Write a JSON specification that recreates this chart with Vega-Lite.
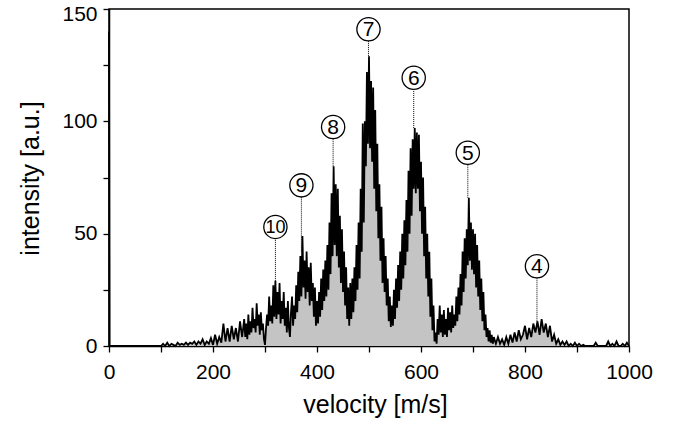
{
  "$schema": "https://vega.github.io/schema/vega-lite/v6.json",
  "width": 520,
  "height": 337,
  "autosize": {"type": "none"},
  "padding": {"left": 109, "top": 9, "right": 45, "bottom": 78},
  "background": "white",
  "config": {
    "font": "Liberation Sans",
    "view": {"stroke": "black", "strokeWidth": 1.5},
    "axis": {
      "grid": false,
      "domainColor": "black",
      "domainWidth": 1.5,
      "tickColor": "black",
      "tickWidth": 1.3,
      "tickSize": 6,
      "labelColor": "black",
      "titleColor": "black",
      "labelFontSize": 21,
      "titleFontSize": 25,
      "titleFontWeight": "normal",
      "labelFlush": false,
      "labelOverlap": false
    }
  },
  "datasets": {
    "spec": [
      {"v":0,"i":140},{"v":1,"i":0},
      {"v":100,"i":0},{"v":104,"i":1},{"v":108,"i":0},{"v":112,"i":1.5},{"v":116,"i":0},{"v":120,"i":1},{"v":124,"i":0.5},{"v":128,"i":0},
      {"v":132,"i":1.5},{"v":136,"i":0.5},{"v":140,"i":1},{"v":144,"i":0.5},{"v":148,"i":1.5},{"v":152,"i":0.5},{"v":156,"i":1.5},{"v":160,"i":1},
      {"v":164,"i":2},{"v":168,"i":0.5},{"v":172,"i":2},{"v":176,"i":1},{"v":180,"i":3},{"v":184,"i":0.5},{"v":188,"i":2},{"v":192,"i":1},
      {"v":196,"i":3.5},{"v":200,"i":0.5},{"v":204,"i":5},{"v":208,"i":1},{"v":212,"i":4},{"v":216,"i":1.5},{"v":220,"i":10},{"v":224,"i":2},
      {"v":228,"i":8},{"v":232,"i":2},{"v":236,"i":9},{"v":240,"i":3},{"v":244,"i":8},{"v":248,"i":2},{"v":252,"i":11},{"v":256,"i":4},
      {"v":260,"i":12},{"v":262,"i":4},{"v":264,"i":10},{"v":266,"i":3},{"v":268,"i":14},{"v":270,"i":5},{"v":272,"i":11},{"v":274,"i":6},
      {"v":276,"i":17},{"v":278,"i":8},{"v":280,"i":12},{"v":282,"i":6},{"v":284,"i":19},{"v":286,"i":9},{"v":288,"i":14},{"v":290,"i":5},
      {"v":292,"i":15},{"v":294,"i":7},{"v":296,"i":10},{"v":298,"i":3},{"v":300,"i":0.5},{"v":302,"i":8},{"v":304,"i":14},{"v":306,"i":9},
      {"v":308,"i":22},{"v":310,"i":11},{"v":312,"i":18},{"v":314,"i":10},{"v":316,"i":27},{"v":318,"i":13},{"v":320,"i":29},{"v":322,"i":12},
      {"v":324,"i":24},{"v":326,"i":14},{"v":328,"i":28},{"v":330,"i":10},{"v":332,"i":20},{"v":334,"i":12},{"v":336,"i":24},{"v":338,"i":9},
      {"v":340,"i":17},{"v":342,"i":6},{"v":344,"i":20},{"v":346,"i":8},{"v":348,"i":4},{"v":350,"i":15},{"v":352,"i":22},{"v":354,"i":9},
      {"v":356,"i":18},{"v":358,"i":12},{"v":360,"i":27},{"v":362,"i":15},{"v":364,"i":33},{"v":366,"i":20},{"v":368,"i":40},{"v":370,"i":22},
      {"v":372,"i":49},{"v":374,"i":26},{"v":376,"i":38},{"v":378,"i":21},{"v":380,"i":42},{"v":382,"i":24},{"v":384,"i":35},{"v":386,"i":18},
      {"v":388,"i":37},{"v":390,"i":20},{"v":392,"i":28},{"v":394,"i":13},{"v":396,"i":26},{"v":398,"i":9},{"v":400,"i":20},{"v":402,"i":10},
      {"v":404,"i":24},{"v":406,"i":13},{"v":408,"i":30},{"v":410,"i":16},{"v":412,"i":34},{"v":414,"i":20},{"v":416,"i":38},{"v":418,"i":22},
      {"v":420,"i":45},{"v":422,"i":25},{"v":424,"i":55},{"v":426,"i":32},{"v":428,"i":68},{"v":430,"i":40},{"v":432,"i":80},{"v":434,"i":45},
      {"v":436,"i":72},{"v":438,"i":40},{"v":440,"i":70},{"v":442,"i":35},{"v":444,"i":58},{"v":446,"i":28},{"v":448,"i":52},{"v":450,"i":24},
      {"v":452,"i":42},{"v":454,"i":18},{"v":456,"i":35},{"v":458,"i":12},{"v":460,"i":26},{"v":462,"i":9},{"v":464,"i":28},{"v":466,"i":12},
      {"v":468,"i":30},{"v":470,"i":15},{"v":472,"i":35},{"v":474,"i":20},{"v":476,"i":45},{"v":478,"i":25},{"v":480,"i":55},{"v":482,"i":30},
      {"v":484,"i":70},{"v":486,"i":42},{"v":488,"i":99},{"v":490,"i":55},{"v":492,"i":100},{"v":494,"i":80},{"v":496,"i":122},{"v":498,"i":90},
      {"v":500,"i":129},{"v":502,"i":88},{"v":504,"i":118},{"v":506,"i":82},{"v":508,"i":115},{"v":510,"i":70},{"v":512,"i":105},{"v":514,"i":60},
      {"v":516,"i":90},{"v":518,"i":48},{"v":520,"i":72},{"v":522,"i":38},{"v":524,"i":62},{"v":526,"i":28},{"v":528,"i":48},{"v":530,"i":24},
      {"v":532,"i":40},{"v":534,"i":18},{"v":536,"i":30},{"v":538,"i":11},{"v":540,"i":22},{"v":542,"i":8.5},{"v":544,"i":18},{"v":546,"i":9},
      {"v":548,"i":25},{"v":550,"i":12},{"v":552,"i":30},{"v":554,"i":17},{"v":556,"i":36},{"v":558,"i":20},{"v":560,"i":42},{"v":562,"i":25},
      {"v":564,"i":50},{"v":566,"i":30},{"v":568,"i":56},{"v":570,"i":36},{"v":572,"i":65},{"v":574,"i":42},{"v":576,"i":78},{"v":578,"i":50},
      {"v":580,"i":88},{"v":582,"i":58},{"v":584,"i":92},{"v":586,"i":70},{"v":588,"i":97},{"v":590,"i":68},{"v":592,"i":95},{"v":594,"i":70},
      {"v":596,"i":94},{"v":598,"i":60},{"v":600,"i":82},{"v":602,"i":50},{"v":604,"i":75},{"v":606,"i":40},{"v":608,"i":62},{"v":610,"i":30},
      {"v":612,"i":50},{"v":614,"i":22},{"v":616,"i":42},{"v":618,"i":13},{"v":620,"i":30},{"v":622,"i":7},{"v":624,"i":18},{"v":626,"i":2},
      {"v":628,"i":6},{"v":630,"i":1},{"v":632,"i":12},{"v":634,"i":5},{"v":636,"i":18},{"v":638,"i":6},{"v":640,"i":14},{"v":642,"i":4},
      {"v":644,"i":16},{"v":646,"i":5},{"v":648,"i":12},{"v":650,"i":4},{"v":652,"i":17},{"v":654,"i":7},{"v":656,"i":15},{"v":658,"i":6},
      {"v":660,"i":18},{"v":662,"i":8},{"v":664,"i":14},{"v":666,"i":9},{"v":668,"i":22},{"v":670,"i":11},{"v":672,"i":26},{"v":674,"i":14},
      {"v":676,"i":32},{"v":678,"i":18},{"v":680,"i":42},{"v":682,"i":24},{"v":684,"i":48},{"v":686,"i":30},{"v":688,"i":52},{"v":690,"i":36},
      {"v":692,"i":66},{"v":694,"i":38},{"v":696,"i":55},{"v":698,"i":34},{"v":700,"i":52},{"v":702,"i":32},{"v":704,"i":50},{"v":706,"i":26},
      {"v":708,"i":45},{"v":710,"i":22},{"v":712,"i":38},{"v":714,"i":16},{"v":716,"i":30},{"v":718,"i":11},{"v":720,"i":24},{"v":722,"i":7},
      {"v":724,"i":14},{"v":726,"i":4},{"v":728,"i":8},{"v":730,"i":2},{"v":732,"i":7},{"v":734,"i":1.5},{"v":736,"i":5},{"v":738,"i":1},
      {"v":740,"i":4},{"v":744,"i":1},{"v":748,"i":4},{"v":752,"i":1},{"v":756,"i":3},{"v":760,"i":0.5},{"v":764,"i":4},{"v":768,"i":1},
      {"v":772,"i":5},{"v":776,"i":1.5},{"v":780,"i":6},{"v":784,"i":2},{"v":788,"i":7},{"v":792,"i":3},{"v":796,"i":5},{"v":800,"i":9},
      {"v":804,"i":3},{"v":808,"i":8},{"v":812,"i":4},{"v":816,"i":10},{"v":820,"i":6},{"v":824,"i":11},{"v":828,"i":5},{"v":832,"i":12},
      {"v":836,"i":6},{"v":840,"i":10},{"v":844,"i":4},{"v":848,"i":9},{"v":852,"i":2},{"v":856,"i":5},{"v":860,"i":1},{"v":864,"i":3},
      {"v":868,"i":0.5},{"v":872,"i":2},{"v":876,"i":0.5},{"v":880,"i":2},{"v":884,"i":0},{"v":888,"i":1},{"v":892,"i":0},{"v":896,"i":1.5},
      {"v":900,"i":0},{"v":904,"i":1},{"v":908,"i":0},{"v":912,"i":0.5},{"v":916,"i":0},{"v":920,"i":0},{"v":924,"i":0},{"v":928,"i":0},
      {"v":932,"i":0},{"v":936,"i":1.5},{"v":940,"i":0},{"v":944,"i":0},{"v":948,"i":0},{"v":952,"i":0},{"v":956,"i":0},{"v":960,"i":2},
      {"v":964,"i":0},{"v":968,"i":1},{"v":972,"i":0},{"v":976,"i":2},{"v":980,"i":0},{"v":984,"i":0},{"v":988,"i":1},{"v":992,"i":0},
      {"v":996,"i":1.5},{"v":1000,"i":0}
    ],
    "labels": [
      {"n":"10","v":320,"c":53,"e":29},
      {"n":"9","v":370,"c":71.5,"e":42},
      {"n":"8","v":431,"c":97.5,"e":80},
      {"n":"7","v":499,"c":141,"e":129},
      {"n":"6","v":586,"c":119.4,"e":97},
      {"n":"5","v":690,"c":86,"e":66},
      {"n":"4","v":823,"c":35.5,"e":11}
    ]
  },
  "layer": [
    {
      "data": {"name": "spec"},
      "mark": {"type": "area", "color": "#c4c4c4"},
      "encoding": {
        "x": {
          "field": "v", "type": "quantitative",
          "scale": {"domain": [0, 1000], "nice": false},
          "axis": {
            "title": "velocity [m/s]",
            "format": "d",
            "values": [0,100,200,300,400,500,600,700,800,900,1000],
            "labelExpr": "datum.value % 200 === 0 ? datum.label : ''",
            "labelBaseline": "alphabetic",
            "labelPadding": 26,
            "titleX": 266,
            "titleY": 66,
            "titleBaseline": "alphabetic",
            "titleAlign": "center"
          }
        },
        "y": {
          "field": "i", "type": "quantitative",
          "scale": {"domain": [0, 150], "nice": false},
          "axis": {
            "title": "intensity [a.u.]",
            "format": "d",
            "values": [0,25,50,75,100,125,150],
            "labelExpr": "datum.value % 50 === 0 ? datum.label : ''",
            "labelPadding": 6,
            "labelOffset": {"condition": {"test": "datum.value === 150", "value": 5}, "value": 0},
            "titleX": -71,
            "titleY": 169,
            "titleAngle": -90,
            "titleBaseline": "alphabetic",
            "titleAlign": "center"
          }
        }
      }
    },
    {
      "data": {"name": "spec"},
      "mark": {"type": "line", "color": "black", "strokeWidth": 1.8},
      "encoding": {
        "x": {"field": "v", "type": "quantitative", "title": "velocity [m/s]"},
        "y": {"field": "i", "type": "quantitative", "title": "intensity [a.u.]"}
      }
    },
    {
      "data": {"name": "labels"},
      "mark": {"type": "rule", "color": "black", "strokeWidth": 1, "strokeDash": [1, 1]},
      "encoding": {
        "x": {"field": "v", "type": "quantitative", "title": "velocity [m/s]"},
        "y": {"field": "e", "type": "quantitative", "title": "intensity [a.u.]"},
        "y2": {"field": "c"}
      }
    },
    {
      "data": {"name": "labels"},
      "mark": {"type": "point", "shape": "circle", "size": 540, "filled": true, "fill": "white", "stroke": "black", "strokeWidth": 1.3, "opacity": 1, "fillOpacity": 1},
      "encoding": {
        "x": {"field": "v", "type": "quantitative", "title": "velocity [m/s]"},
        "y": {"field": "c", "type": "quantitative", "title": "intensity [a.u.]"}
      }
    },
    {
      "data": {"name": "labels"},
      "mark": {"type": "text", "baseline": "middle", "align": "center", "dy": 1, "color": "black"},
      "encoding": {
        "x": {"field": "v", "type": "quantitative", "title": "velocity [m/s]"},
        "y": {"field": "c", "type": "quantitative", "title": "intensity [a.u.]"},
        "text": {"field": "n"},
        "size": {"condition": {"test": "datum.n === '10'", "value": 18}, "value": 21}
      }
    }
  ]
}
